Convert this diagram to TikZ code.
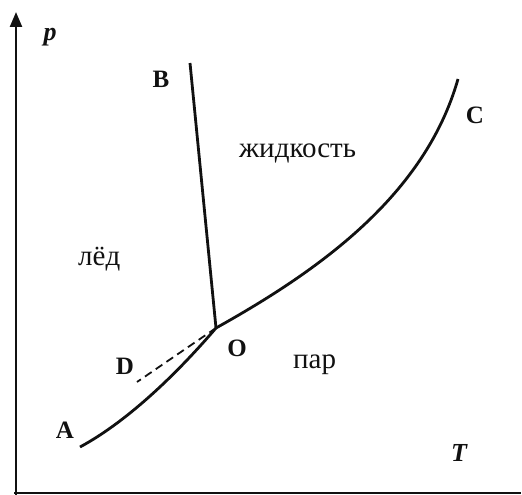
\documentclass[tikz,border=0pt]{standalone}
\usepackage{fontspec}
\setmainfont{Liberation Serif}
\usetikzlibrary{arrows.meta,positioning}
\definecolor{ink}{HTML}{111111}
\tikzset{
  axis/.style={line width=2.4pt, draw=ink},
  curve/.style={line width=2.8pt, draw=ink},
  dashline/.style={line width=1.8pt, draw=ink, dash pattern=on 8pt off 5pt},
  letter/.style={font=\fontsize{25}{27}\selectfont\bfseries, text=ink, inner sep=0pt},
  axlabel/.style={font=\fontsize{26}{28}\selectfont\bfseries\itshape, text=ink, inner sep=0pt},
  phase/.style={font=\fontsize{29}{31}\selectfont, text=ink, inner sep=0pt, anchor=base west}
}
\begin{document}
\begin{tikzpicture}[x=1pt, y=-1pt]
  \useasboundingbox (0,0) rectangle (522,495);
  % axes
  \coordinate (orig) at (16,495);
  \coordinate (ptop) at (16,12);
  \coordinate (hleft) at (14,493);
  \coordinate (hright) at (521,493);
  \draw[axis, -{Triangle[length=15pt, width=12pt]}] (orig) -- (ptop);
  \draw[axis] (hleft) -- (hright);
  % phase lines
  \coordinate (O) at (216,328);
  \coordinate (B) at (190,63);
  \coordinate (C) at (458,79);
  \coordinate (A) at (80,447);
  \coordinate (D) at (137,382);
  \draw[curve] (O) -- (B);
  \draw[curve] (O) .. controls (320,270) and (425,195) .. (C);
  \draw[curve] (O) .. controls (180,370) and (130,420) .. (A);
  \draw[dashline] (O) -- (D);
  % labels
  \node[axlabel] (lp) at (50,37) {p};
  \node[axlabel] (lT) at (459,453) {T};
  \node[letter] (lB) at (161,79) {B};
  \node[letter] (lC) at (475,115) {C};
  \node[letter] (lO) at (237,348) {O};
  \node[letter] (lD) at (125,366) {D};
  \node[letter] (lA) at (65,430) {A};
  \node[phase] (liquid) at (239,157) {жидкость};
  \node[phase] (ice) at (78,265) {лёд};
  \node[phase] (vapour) at (293,368) {пар};
\end{tikzpicture}
\end{document}
